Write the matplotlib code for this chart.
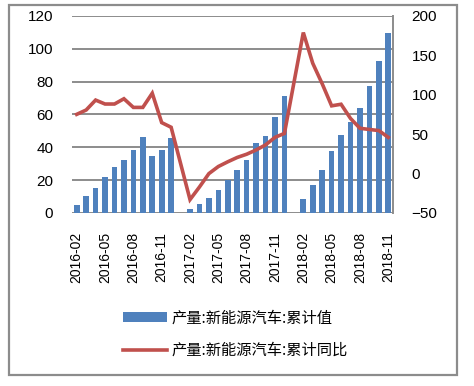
import numpy as np
import matplotlib
matplotlib.use("Agg")
from matplotlib import pyplot as plt
from matplotlib.patches import Rectangle

# months 2016-02 .. 2018-11 (no January figures)
months = []
for yr in (2016, 2017, 2018):
    for m in range(1, 13):
        if (yr == 2016 and m < 2) or (yr == 2018 and m > 11):
            continue
        months.append("%d-%02d" % (yr, m))

# cumulative output, 10k units (left axis)
cum_value = [5.1, 10.1, 15.2, 21.7, 28.3, 32.0, 38.5, 46.2, 34.6, 38.5, 45.5,
             None, 2.2, 5.5, 9.1, 14.2, 20.2, 25.9, 32.0, 42.5, 47.2, 58.7, 71.5,
             None, 8.7, 16.8, 26.1, 37.9, 47.6, 55.3, 63.8, 77.3, 92.3, 109.9]

# cumulative yoy growth, % (right axis)
cum_yoy = [75.2, 80.7, 93.3, 88.3, 88.3, 95.0, 84.0, 84.0, 102.0, 64.7, 58.8,
           None, -33.0, -17.0, 0.0, 9.0, 15.0, 20.5, 24.6, 30.0, 36.4, 46.0, 51.0,
           None, 179.0, 140.0, 114.0, 86.0, 88.0, 70.0, 57.5, 56.0, 54.6, 46.0]

bar_label = "产量:新能源汽车:累计值"
line_label = "产量:新能源汽车:累计同比"

x = np.arange(len(months))
bx = [i for i, v in zip(x, cum_value) if v is not None]
bv = [v for v in cum_value if v is not None]
lx = [i for i, v in zip(x, cum_yoy) if v is not None]
lv = [v for v in cum_yoy if v is not None]

plt.rcParams['font.family'] = ['Liberation Sans', 'DejaVu Sans']

fig = plt.figure(figsize=(4.74, 3.86), dpi=100)
ax = fig.add_axes([72/474, 1-213/386, (393-72)/474, (213-16)/386])
ax2 = ax.twinx()

bars = ax.bar(bx, bv, width=0.6, color='#4F81BD', zorder=3)
line, = ax2.plot(lx, lv, color='#C0504D', linewidth=2.6, solid_joinstyle='miter', zorder=4)

ax.set_xlim(-0.5, len(months)-0.5)
ax.set_ylim(0, 120)
ax.set_yticks(range(0, 121, 20))
ax2.set_ylim(-50, 200)
ax2.set_yticks(range(-50, 201, 50))

ax.grid(axis='y', color='#8c8c8c', linewidth=1.4, zorder=0)
ax.set_axisbelow(True)
ax.set_xticks(x[::3])
ax.set_xticklabels(months[::3], rotation=90, fontsize=10)

for a in (ax, ax2):
    for s in ('top', 'left', 'right', 'bottom'):
        a.spines[s].set_visible(False)
    a.tick_params(length=0, pad=13.5, labelsize=11)
ax.tick_params(axis='x', labelsize=10)
ax2.spines['right'].set_visible(True)
ax2.spines['right'].set_color('#8c8c8c')
ax2.spines['right'].set_linewidth(1.4)

ax.set_zorder(ax2.get_zorder() - 1)
ax2.patch.set_visible(False)
ax.patch.set_visible(False)

fig.legend([bars, line], [bar_label, line_label], loc='center left',
           bbox_to_anchor=(123/474, 1-334/386), frameon=False,
           prop={'family': ['Noto Sans CJK SC', 'DejaVu Sans'], 'size': 11},
           handlelength=2.85, handleheight=0.55, handletextpad=0.3,
           labelspacing=1.0, borderpad=0, borderaxespad=0)

fig.patches.append(Rectangle((9/474, 11/386), (457-9)/474, (381-11)/386,
                             transform=fig.transFigure, fill=False,
                             edgecolor='#8c8c8c', linewidth=1.6))

fig.savefig("out.png", dpi=100)
